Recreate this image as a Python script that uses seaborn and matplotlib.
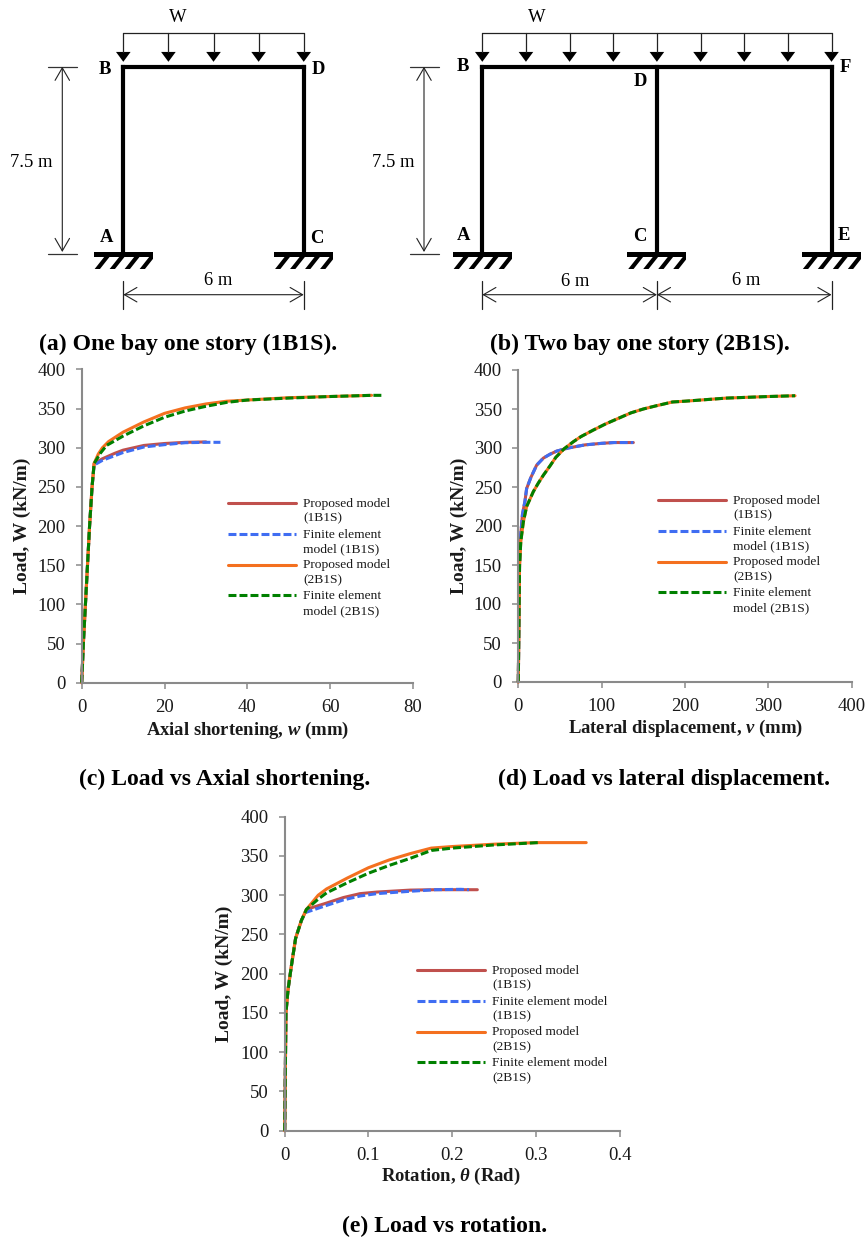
import matplotlib
matplotlib.use("Agg")
import matplotlib.pyplot as plt
from matplotlib.patches import Rectangle
import seaborn as sns

# ---- data ----
load_1 = [0, 50, 100, 150, 180, 210, 245, 268, 282]

w_p1 = [0, 0.4, 0.9, 1.4, 1.9, 2.5, 3, 5, 8, 10, 15, 20, 25, 30]
W_p1 = [0, 50, 100, 150, 200, 250, 280, 286, 293, 297, 303, 305.5, 307, 307.5]
w_f1 = [0, 0.4, 0.9, 1.4, 1.9, 2.5, 3, 5, 8, 10, 15, 20, 25, 30, 33.5]
W_f1 = [0, 50, 100, 150, 200, 250, 278, 284, 290, 294, 301, 304, 306.5, 307, 307]
w_p2 = [0, 0.4, 0.9, 1.4, 1.9, 2.5, 3, 4, 5, 6.5, 10, 15, 20, 25, 30, 35, 40, 50, 60, 70]
W_p2 = [0, 50, 100, 150, 200, 250, 280, 292, 300, 308, 320, 333, 344, 351, 356, 359.5, 361, 364, 365.5, 367]
w_f2 = [0, 0.4, 0.9, 1.4, 1.9, 2.5, 3, 4.5, 6, 10, 15, 20, 25, 30, 35, 40, 50, 60, 70, 73]
W_f2 = [0, 50, 100, 150, 200, 250, 280, 293, 303, 315, 328, 339, 347, 353, 358, 361, 363.5, 365.5, 367, 367]

v_1 = [0, 0.5, 1, 1.5, 3, 5, 8, 10, 15, 22, 30, 38, 46, 60, 80, 100, 115, 125, 138]
V_1 = [0, 50, 100, 150, 190, 215, 232, 248, 262, 278, 287, 292, 296, 300, 304, 306, 307, 307, 307]
v_2 = [0, 0.5, 1, 1.5, 3, 6, 10, 18, 24, 30, 38, 45, 55, 66, 75, 90, 105, 120, 135, 150, 165, 185, 200, 225, 250, 275, 300, 332]
V_2 = [0, 50, 100, 150, 180, 205, 225, 244, 255, 265, 277, 288, 299, 308, 314.5, 323, 331, 338, 345, 350, 354, 359, 360, 362, 364, 365, 366, 367]

t_c = [0, 0.0005, 0.001, 0.0015, 0.004, 0.008, 0.013, 0.02, 0.026]
t_p1 = t_c + [0.05, 0.07, 0.09, 0.11, 0.15, 0.18, 0.23]
T_p1 = load_1 + [290, 297, 302, 304, 306.5, 307, 307]
t_f1 = t_c[:-1] + [0.025, 0.05, 0.07, 0.09, 0.11, 0.15, 0.18, 0.21, 0.22]
T_f1 = load_1[:-1] + [278, 287, 294, 299, 302, 305, 307, 307.5, 307]
t_p2 = t_c + [0.04, 0.05, 0.075, 0.1, 0.125, 0.15, 0.175, 0.2, 0.25, 0.3, 0.36]
T_p2 = load_1 + [300, 308, 322, 335, 345, 353, 360, 362, 365, 367, 367]
t_f2 = t_c + [0.04, 0.05, 0.075, 0.1, 0.125, 0.15, 0.175, 0.2, 0.25, 0.303]
T_f2 = load_1 + [295, 303, 316, 328, 338, 347, 357, 360, 364, 367]

load_ticks = [0, 50, 100, 150, 200, 250, 300, 350, 400]
w_ticks = [0, 20, 40, 60, 80]
v_ticks = [0, 100, 200, 300, 400]
t_ticks = [0, 0.1, 0.2, 0.3, 0.4]
t_tick_labels = ["0", "0.1", "0.2", "0.3", "0.4"]

labels_narrow = ["Proposed model\n(1B1S)", "Finite element\nmodel (1B1S)",
                 "Proposed model\n(2B1S)", "Finite element\nmodel (2B1S)"]
labels_wide = ["Proposed model\n(1B1S)", "Finite element model\n(1B1S)",
               "Proposed model\n(2B1S)", "Finite element model\n(2B1S)"]

HEIGHT_M = 7.5
BAY_M = 6.0
arrows_a = [0, 1.5, 3, 4.5, 6]
arrows_b = [0, 1.5, 3, 4.5, 6, 7.5, 9, 10.5, 12]

# ---- style ----
sns.set_style("ticks")
FONT = "Liberation Serif"
plt.rcParams["font.family"] = [FONT, "DejaVu Serif"]
plt.rcParams["mathtext.fontset"] = "custom"
plt.rcParams["mathtext.rm"] = FONT
plt.rcParams["mathtext.it"] = FONT + ":italic"
plt.rcParams["mathtext.bf"] = FONT + ":bold"
plt.rcParams["mathtext.bfit"] = FONT + ":italic:bold"

W_PX, H_PX = 867, 1238
fig = plt.figure(figsize=(W_PX / 100, H_PX / 100), dpi=100, facecolor="white")

TEXT = "#1a1a1a"
GRAY = "#8a8a8a"
COL = ["#C0504D", "#3F6DF2", "#F4701F", "#008000"]
LW = 2.2
DASH = (0, (2.6, 1.0))


def fx(px):
    return px / W_PX


def fy(py):
    return 1 - py / H_PX


def txt(px, py, s, size=13.4, weight="normal", **kw):
    fig.text(fx(px), fy(py), s, fontsize=size, fontweight=weight, ha="center",
             va="center", color="black", **kw)


def chart(x0, x1, ytop, ybot, xmax, xticks, xlabel, xl_pos, yl_pos, series, leg_pos,
          leg_labels, xticklabels=None):
    ax = fig.add_axes([fx(x0), fy(ybot), fx(x1 - x0), (ybot - ytop) / H_PX])
    for (xs, ys), c, dashed in zip(series, COL, [False, True, False, True]):
        sns.lineplot(x=xs, y=ys, color=c, lw=LW, ax=ax, estimator=None, sort=False,
                     linestyle=DASH if dashed else "-", legend=False, clip_on=False)
    ax.set_xlim(0, xmax)
    ax.set_ylim(0, 400)
    ax.set_xticks(xticks)
    if xticklabels:
        ax.set_xticklabels(xticklabels)
    ax.set_yticks(load_ticks)
    ax.tick_params(length=4.5, width=1.1, color=GRAY, labelsize=13.5,
                   labelcolor=TEXT, pad=7.3)
    ax.set_facecolor("none")
    sns.despine(ax=ax)
    for side in ("left", "bottom"):
        ax.spines[side].set_color(GRAY)
        ax.spines[side].set_linewidth(1.5)
    ax.set_xlabel(xlabel, fontsize=13.4, fontweight="bold", color=TEXT, va="center")
    ax.set_ylabel("Load, W (kN/m)", fontsize=14, fontweight="bold", color=TEXT, va="center")
    ax.xaxis.set_label_coords((xl_pos[0] - x0) / (x1 - x0), (ybot - xl_pos[1]) / (ybot - ytop))
    ax.yaxis.set_label_coords((yl_pos[0] + 2 - x0) / (x1 - x0), (ybot - yl_pos[1]) / (ybot - ytop))
    leg = ax.legend(ax.get_lines(), leg_labels, loc="upper left",
                    bbox_to_anchor=(fx(leg_pos[0]), fy(leg_pos[1] + 2)),
                    bbox_transform=fig.transFigure, frameon=False, fontsize=9.7,
                    borderaxespad=0, borderpad=0, handlelength=5.1, handletextpad=0.5,
                    labelspacing=0.3, labelcolor=TEXT)
    for t in leg.get_texts():
        t.set_linespacing(1.3)
    for ln in leg.get_lines():
        ln.set_ydata([y + 5.8 for y in ln.get_ydata()])
    return ax


def frame(px_x0, px_m_x, columns, arrows, px_dim_x, dim_half, x_dim_ticks):
    # axes in metres: y = 0 at the base, 1 m = 24.7 px
    px_m_y = 24.7
    base_px = 252.0
    left, right = px_x0 - 90, min(px_x0 + columns[-1] * px_m_x + 45, W_PX)
    top, bottom = 0, 325
    ax = fig.add_axes([fx(left), fy(bottom), fx(right - left), (bottom - top) / H_PX])
    ax.set_xlim((left - px_x0) / px_m_x, (right - px_x0) / px_m_x)
    ax.set_ylim((base_px - bottom) / px_m_y, (base_px - top) / px_m_y)
    ax.axis("off")
    # members
    for c in columns:
        ax.plot([c, c], [0, HEIGHT_M], color="black", lw=3.0, solid_capstyle="projecting")
    ax.plot([columns[0], columns[-1]], [HEIGHT_M, HEIGHT_M], color="black", lw=3.0,
            solid_capstyle="projecting")
    # supports
    half = 29.5 / px_m_x
    plate_h = 5 / px_m_y
    hatch_h = 17 / px_m_y
    for c in columns:
        ax.add_patch(Rectangle((c - half, -plate_h), 2 * half, plate_h, color="black", lw=0))
        clip = Rectangle((c - half, -hatch_h), 2 * half, hatch_h, transform=ax.transData)
        for k in range(4):
            x_low = c - half + (3.5 + 15 * k) / px_m_x
            ln, = ax.plot([x_low, x_low + 9.5 / px_m_x], [-hatch_h, -plate_h], color="black",
                          lw=3.0, solid_capstyle="projecting")
            ln.set_clip_path(clip)
    # distributed load
    y_line, y_head, y_tip = 8.85, 8.1, 7.7
    ax.plot([arrows[0], arrows[-1]], [y_line, y_line], color="#222222", lw=0.9)
    hw = 7.3 / px_m_x
    for a in arrows:
        ax.plot([a, a], [y_line, y_head], color="#222222", lw=0.9)
        ax.fill([a - hw, a + hw, a], [y_head, y_head, y_tip], color="black", lw=0)
    # height dimension
    dx = (px_dim_x - px_x0) / px_m_x
    arrow = dict(arrowstyle="<->,head_length=0.9,head_width=0.52", color="#222222", lw=0.8,
                 shrinkA=0, shrinkB=0, mutation_scale=10)
    ax.annotate("", xy=(dx, 0), xytext=(dx, HEIGHT_M), arrowprops=arrow)
    for y in (-0.07, HEIGHT_M):
        ax.plot([dx - dim_half / px_m_x, dx + dim_half / px_m_x], [y, y], color="#333333", lw=0.9)
    # span dimensions
    y_dim = (base_px - 294.7) / px_m_y
    for a, b in zip(x_dim_ticks[:-1], x_dim_ticks[1:]):
        ax.annotate("", xy=(a, y_dim), xytext=(b, y_dim), arrowprops=arrow)
    for a in x_dim_ticks:
        ax.plot([a, a], [y_dim - 14 / px_m_y, y_dim + 14 / px_m_y], color="#222222", lw=0.9)


# ---- panel (a), (b) ----
frame(123.3, 30.07, [0, BAY_M], arrows_a, 62.3, 14.7, [0, BAY_M])
frame(482.3, 29.1, [0, BAY_M, 2 * BAY_M], arrows_b, 424.0, 14.5, [0, BAY_M, 2 * BAY_M])

txt(178, 18, "W")
txt(537, 17, "W")
for x, y, s in [(105, 70, "B"), (318, 69, "D"), (106.7, 237.7, "A"), (317, 238.7, "C"),
                (463.3, 66.7, "B"), (640, 81.7, "D"), (845, 67.7, "F"),
                (464, 235.7, "A"), (640, 236.7, "C"), (844.3, 235.7, "E")]:
    txt(x, y, s, weight="bold")
txt(31, 162.5, "7.5 m")
txt(393, 162.5, "7.5 m")
txt(218, 280.5, "6 m")
txt(575, 282, "6 m")
txt(746, 280, "6 m")

# ---- panel (c), (d), (e) ----
chart(81.7, 413, 369.5, 682.7, 80, w_ticks, r"Axial shortening, $\mathbfit{w}$ (mm)",
      (247, 730), (20, 526),
      [(w_p1, W_p1), (w_f1, W_f1), (w_p2, W_p2), (w_f2, W_f2)],
      (227.7, 496), labels_narrow)
chart(518.3, 851.7, 370, 682, 400, v_ticks, r"Lateral displacement, $\mathbfit{v}$ (mm)",
      (685, 728), (457, 526),
      [(v_1, V_1), (v_1, V_1), (v_2, V_2), (v_2, V_2)],
      (657.7, 493), labels_narrow)
chart(284.7, 619.7, 816.7, 1130.7, 0.4, t_ticks, r"Rotation, $\mathbfit{\theta}$ (Rad)",
      (450.5, 1176.7), (222.7, 974),
      [(t_p1, T_p1), (t_f1, T_f1), (t_p2, T_p2), (t_f2, T_f2)],
      (416.7, 963), labels_wide, xticklabels=t_tick_labels)

# ---- captions ----
CAP = 17.1
txt(188, 344, "(a) One bay one story (1B1S).", size=CAP, weight="bold")
txt(639.7, 344, "(b) Two bay one story (2B1S).", size=CAP, weight="bold")
txt(224.5, 779, "(c) Load vs Axial shortening.", size=CAP, weight="bold")
txt(664, 779, "(d) Load vs lateral displacement.", size=CAP, weight="bold")
txt(445, 1226, "(e) Load vs rotation.", size=CAP, weight="bold")

fig.savefig("out.png", dpi=100, facecolor="white")
